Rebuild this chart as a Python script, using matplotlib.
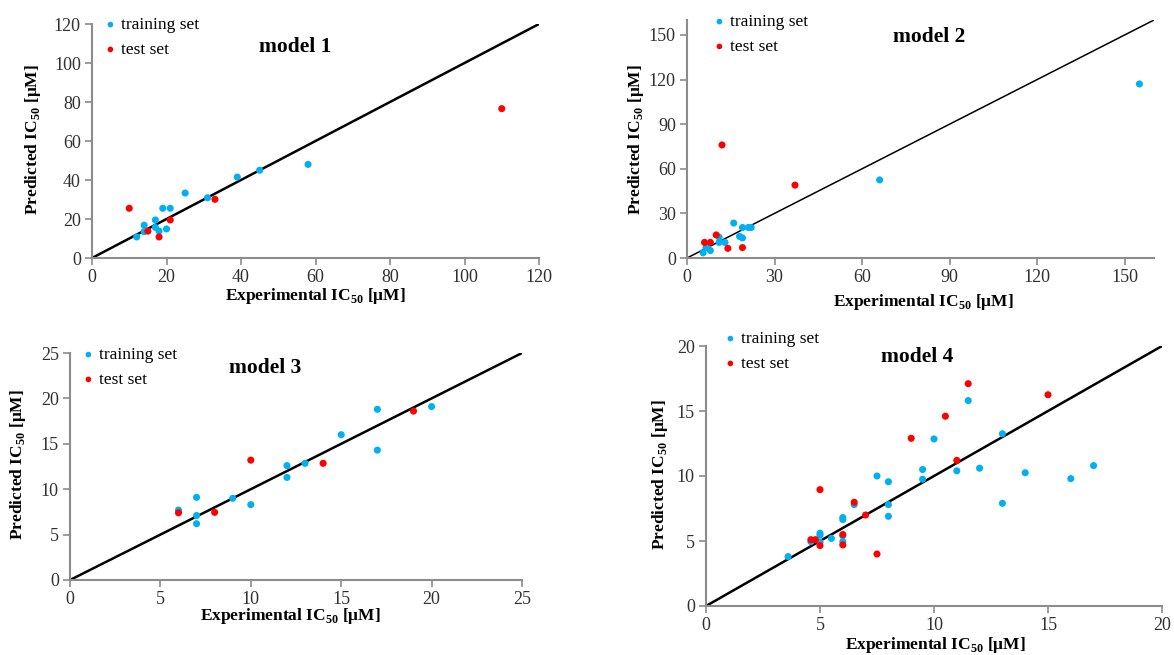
import matplotlib
matplotlib.use("Agg")
import matplotlib.pyplot as plt

plt.rcParams['font.family'] = ['Liberation Serif', 'DejaVu Serif']
plt.rcParams['mathtext.fontset'] = 'custom'
plt.rcParams['mathtext.rm'] = 'Liberation Serif'
plt.rcParams['mathtext.bf'] = 'Liberation Serif:bold'

BLUE = '#00B0F0'
RED = '#FF0000'
GRAY = '#8C8C8C'

# ---- model 1 ----
m1_train_x = [12, 14, 14, 17, 17, 18, 19, 21, 20, 25, 31, 39, 45, 58]
m1_train_y = [10.8, 16.8, 13.5, 19.5, 15.7, 13.8, 25.5, 25.5, 14.9, 33.3, 30.9, 41.5, 45, 48]
m1_test_x = [10, 15, 18, 21, 33, 110]
m1_test_y = [25.5, 13.8, 10.8, 19.5, 30.1, 76.6]

# ---- model 2 ----
m2_train_x = [5.5, 6.5, 7, 8, 11, 11, 13, 16, 18, 19, 19, 21, 22, 66, 155]
m2_train_y = [3.5, 7, 7.5, 5, 14, 10.5, 10.5, 23.5, 14.5, 13.5, 20.5, 20.5, 20.5, 52.5, 117]
m2_test_x = [6, 8, 10, 12, 14, 19, 37]
m2_test_y = [10.5, 10.5, 15.5, 76, 6.5, 7, 49]

# ---- model 3 ----
m3_train_x = [6, 7, 7, 7, 9, 10, 12, 12, 13, 15, 17, 17, 20]
m3_train_y = [7.7, 9.1, 7.1, 6.2, 9.0, 8.3, 12.6, 11.3, 12.85, 16.0, 18.8, 14.3, 19.1]
m3_test_x = [6, 8, 10, 14, 19]
m3_test_y = [7.4, 7.45, 13.2, 12.85, 18.6]

# ---- model 4 ----
m4_train_x = [3.6, 4.6, 5, 5, 5, 5.5, 6, 6, 6, 6, 6.5, 7.5, 8, 8, 8, 9.5, 9.5,
              10, 11.5, 11, 12, 13, 13, 14, 16, 17]
m4_train_y = [3.8, 4.95, 5.6, 5.45, 4.9, 5.2, 6.8, 6.65, 5.4, 4.95, 7.8, 10.0, 9.56,
              7.8, 6.9, 10.5, 9.75, 12.85, 15.8, 10.4, 10.6, 13.25, 7.9, 10.25, 9.8, 10.8]
m4_test_x = [5, 6.5, 7, 6, 6, 7.5, 5, 4.6, 4.8, 11.5, 10.5, 9, 15, 11]
m4_test_y = [8.95, 7.98, 7.0, 5.5, 4.7, 4.0, 4.65, 5.1, 5.1, 17.1, 14.6, 12.9, 16.25, 11.2]

panels = [
    dict(tx=m1_train_x, ty=m1_train_y, sx=m1_test_x, sy=m1_test_y, lim=120, step=20,
         title='model 1', pos=[92, 24, 539, 258], lw=1.8,
         title_px=(295, 47), leg_px=(100, 17), xl_px=(315, 296), yl_px=(33, 140)),
    dict(tx=m2_train_x, ty=m2_train_y, sx=m2_test_x, sy=m2_test_y, lim=160, step=30,
         title='model 2', pos=[687, 20, 1154, 258], lw=1.1,
         title_px=(929, 37), leg_px=(709, 14), xl_px=(923, 302), yl_px=(636, 140)),
    dict(tx=m3_train_x, ty=m3_train_y, sx=m3_test_x, sy=m3_test_y, lim=25, step=5,
         title='model 3', pos=[70, 353, 522, 580], lw=1.8,
         title_px=(265, 368), leg_px=(78, 347), xl_px=(290, 616), yl_px=(18, 465)),
    dict(tx=m4_train_x, ty=m4_train_y, sx=m4_test_x, sy=m4_test_y, lim=20, step=5,
         title='model 4', pos=[706, 346, 1162, 606], lw=1.8,
         title_px=(917, 357), leg_px=(720, 331), xl_px=(935, 645), yl_px=(660, 475)),
]

W, H = 1174, 655
fig = plt.figure(figsize=(W / 100, H / 100), dpi=100)

for p in panels:
    l, t, r, b = p['pos']
    ax = fig.add_axes([l / W, 1 - b / H, (r - l) / W, (b - t) / H])
    lim = p['lim']
    ax.plot([0, lim], [0, lim], color='black', lw=p['lw'], zorder=1)
    ax.scatter(p['tx'], p['ty'], s=26, color=BLUE, edgecolors='none', zorder=3, label='training set')
    ax.scatter(p['sx'], p['sy'], s=26, color=RED, edgecolors='none', zorder=3, label='test set')
    ax.set_xlim(0, lim)
    ax.set_ylim(0, lim)
    ticks = list(range(0, lim + 1, p['step']))
    ax.set_xticks(ticks)
    ax.set_yticks(ticks)
    for sp in ['top', 'right']:
        ax.spines[sp].set_visible(False)
    for sp in ['left', 'bottom']:
        ax.spines[sp].set_color(GRAY)
        ax.spines[sp].set_linewidth(1.5)
    ax.tick_params(direction='out', length=5, width=1.2, color=GRAY, labelsize=13,
                   labelcolor='#303030', pad=3)
    tx, ty = p['title_px']
    fig.text(tx / W, 1 - ty / H, p['title'], ha='center', va='center',
             fontsize=15.5, fontweight='bold')
    xx, xy = p['xl_px']
    fig.text(xx / W, 1 - xy / H, r'Experimental IC$_{\mathbf{50}}$ [μM]', ha='center', va='center',
             fontsize=12.5, fontweight='bold')
    yx, yy = p['yl_px']
    fig.text(yx / W, 1 - yy / H, r'Predicted IC$_{\mathbf{50}}$ [μM]', ha='center', va='center',
             fontsize=12.5, fontweight='bold', rotation=90)
    lx, ly = p['leg_px']
    ax.legend(loc='upper left', bbox_to_anchor=(lx / W, 1 - ly / H), bbox_transform=fig.transFigure,
              frameon=False, fontsize=12.5, handletextpad=0.0, labelspacing=0.5,
              borderaxespad=0, borderpad=0, markerscale=0.8, handlelength=1.2)

fig.savefig('out.png', dpi=100)
